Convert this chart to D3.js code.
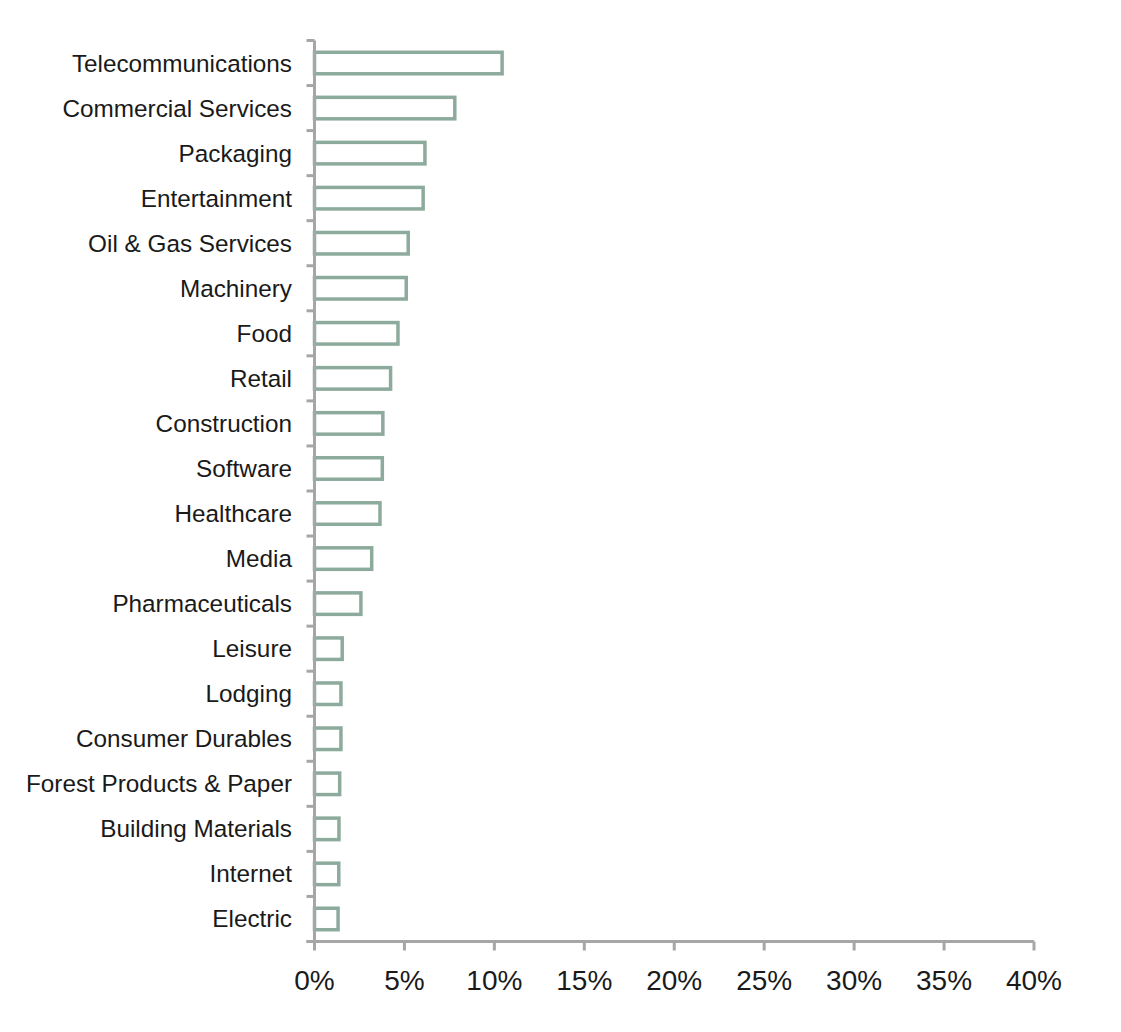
<!DOCTYPE html>
<html>
<head>
<meta charset="utf-8">
<script src="https://cdn.jsdelivr.net/npm/d3@7"></script>
<style>
  html, body { margin: 0; padding: 0; background: #fff; }
  svg { display: block; }
</style>
</head>
<body>
<svg id="chart" width="1121" height="1032"></svg>
<script>
const categories = ["Telecommunications","Commercial Services","Packaging","Entertainment","Oil & Gas Services","Machinery","Food","Retail","Construction","Software","Healthcare","Media","Pharmaceuticals","Leisure","Lodging","Consumer Durables","Forest Products & Paper","Building Materials","Internet","Electric"];
const values = [10.43, 7.8, 6.14, 6.04, 5.21, 5.1, 4.64, 4.23, 3.8, 3.77, 3.64, 3.18, 2.58, 1.54, 1.47, 1.47, 1.4, 1.36, 1.35, 1.31];
const xTicks = [0, 5, 10, 15, 20, 25, 30, 35, 40];

(function () {
const svg = d3.select("#chart");
const mLeft = 314.5, mRight = 1034, mTop = 40.5, mBottom = 941.5;
const axisColor = "#a6a6a6";
const barColor = "#8dab9c";
const font = "'Liberation Sans', Arial, Helvetica, sans-serif";

const x = d3.scaleLinear().domain([0, 40]).range([mLeft, mRight]);
const y = d3.scaleBand().domain(categories).range([mTop, mBottom]).paddingInner(0).paddingOuter(0);

// bars
const barH = 21.5;
svg.append("g").selectAll("rect").data(categories).join("rect")
  .attr("x", mLeft)
  .attr("y", d => y(d) + (y.bandwidth() - barH) / 2)
  .attr("width", (d, i) => x(values[i]) - mLeft)
  .attr("height", barH)
  .attr("fill", "#fff")
  .attr("stroke", barColor)
  .attr("stroke-width", 3.5);

// y axis
const yAxisG = svg.append("g");
yAxisG.append("line").attr("x1", mLeft).attr("x2", mLeft).attr("y1", mTop).attr("y2", mBottom)
  .attr("stroke", axisColor).attr("stroke-width", 3);
const yBounds = categories.map(c => y(c)).concat([mBottom]);
yAxisG.selectAll("line.tick").data(yBounds).join("line").attr("class", "tick")
  .attr("x1", mLeft - 8).attr("x2", mLeft).attr("y1", d => d).attr("y2", d => d)
  .attr("stroke", axisColor).attr("stroke-width", 3);
yAxisG.selectAll("text").data(categories).join("text")
  .attr("x", 292).attr("y", d => y(d) + y.bandwidth() / 2)
  .attr("dy", "0.35em").attr("text-anchor", "end")
  .attr("font-family", font).attr("font-size", 24.3).attr("fill", "#1a1a1a")
  .text(d => d);

// x axis
const xAxisG = svg.append("g");
xAxisG.append("line").attr("x1", mLeft - 8).attr("x2", mRight).attr("y1", mBottom).attr("y2", mBottom)
  .attr("stroke", axisColor).attr("stroke-width", 3);
xAxisG.selectAll("line.tick").data(xTicks).join("line").attr("class", "tick")
  .attr("x1", d => x(d)).attr("x2", d => x(d)).attr("y1", mBottom).attr("y2", mBottom + 9)
  .attr("stroke", axisColor).attr("stroke-width", 3);
xAxisG.selectAll("text").data(xTicks).join("text")
  .attr("x", d => x(d)).attr("y", 990)
  .attr("text-anchor", "middle")
  .attr("font-family", font).attr("font-size", 28).attr("fill", "#1a1a1a")
  .text(d => d + "%");
})();
</script>
</body>
</html>
